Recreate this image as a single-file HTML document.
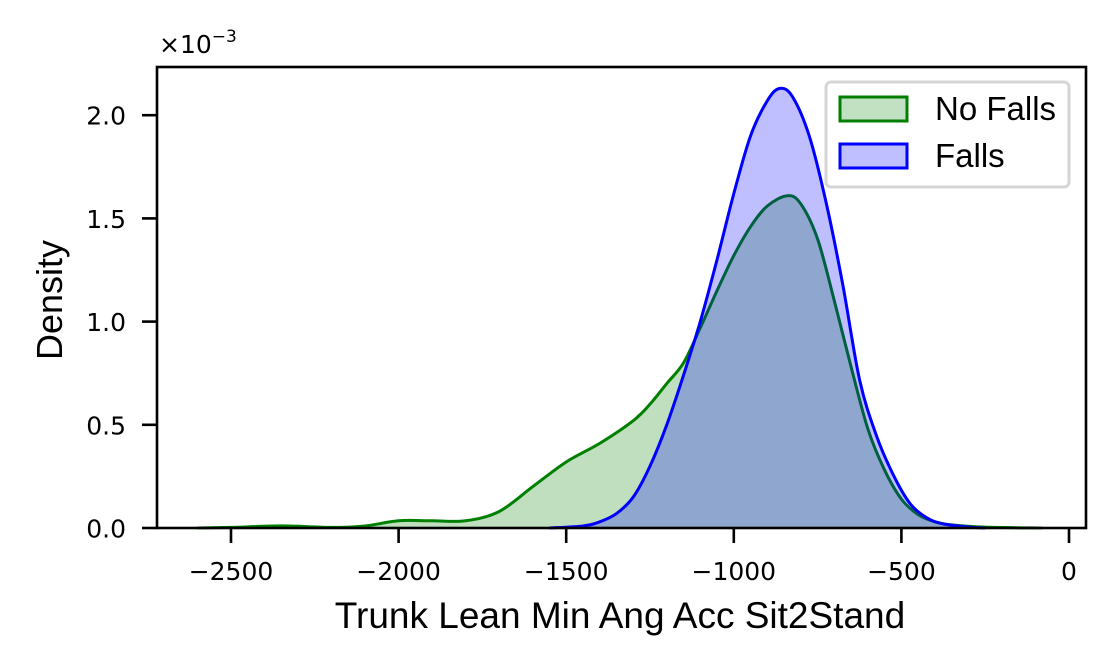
<!DOCTYPE html>
<html><head><meta charset="utf-8"><style>
body{margin:0;background:#fff}
svg text{font-family:"Liberation Sans",Arial,sans-serif}
.tk{font-family:"DejaVu Sans",sans-serif}
</style></head><body>
<svg id="chart" width="1116" height="666">
<rect width="1116" height="666" fill="#fff"/>
<g id="plot"></g>
<rect x="157" y="67" width="929" height="461" fill="none" stroke="#000" stroke-width="2.6"/>
<g id="axes"></g>
<text class="tk" x="159" y="53" font-size="25">×10<tspan dy="-11" font-size="17">−3</tspan></text>
<text transform="translate(62,300) rotate(-90)" font-size="36" text-anchor="middle">Density</text>
<text x="620" y="628" font-size="37" text-anchor="middle">Trunk Lean Min Ang Acc Sit2Stand</text>
<g>
<rect x="826" y="82" width="243" height="105" rx="5" fill="#fff" fill-opacity="0.8" stroke="#d5d5d5" stroke-width="3"/>
<g>
<rect x="840" y="97" width="67" height="24" fill="#c2e0c2" stroke="#008000" stroke-width="3"/>
<text x="935" y="120" font-size="33">No Falls</text></g>
<g>
<rect x="840" y="144" width="67" height="24" fill="#bfbfff" stroke="#0000ff" stroke-width="3"/>
<text x="935" y="167" font-size="33">Falls</text></g>
</g>
</svg>
<script>
const greenX=[-2600,-2500,-2350,-2200,-2100,-2000,-1900,-1800,-1700,-1600,-1500,-1400,-1300,-1250,-1200,-1150,-1100,-1050,-1000,-950,-900,-840,-800,-750,-700,-650,-600,-550,-500,-450,-400,-350,-250,-80];
const greenY=[0,0.003,0.01,0.003,0.01,0.035,0.035,0.035,0.08,0.2,0.32,0.41,0.52,0.6,0.7,0.8,0.97,1.15,1.32,1.46,1.56,1.61,1.57,1.4,1.1,0.78,0.48,0.28,0.14,0.065,0.03,0.015,0.004,0];
const blueX=[-1550,-1450,-1400,-1350,-1300,-1250,-1200,-1150,-1100,-1050,-1000,-950,-900,-863,-825,-775,-725,-675,-625,-575,-525,-475,-425,-375,-300,-250];
const blueY=[0,0.01,0.03,0.07,0.15,0.3,0.5,0.74,1.0,1.3,1.62,1.9,2.07,2.13,2.09,1.9,1.58,1.18,0.72,0.45,0.26,0.12,0.05,0.02,0.005,0];
const xTicks=[-2500,-2000,-1500,-1000,-500,0];
const xTickLabels=["−2500","−2000","−1500","−1000","−500","0"];
const yTicks=[0,0.5,1.0,1.5,2.0];
const yTickLabels=["0.0","0.5","1.0","1.5","2.0"];
const NS="http://www.w3.org/2000/svg";
const sx=v=>1069+(v/500)*167.6;
const sy=v=>528-v*206.4;
function mk(t,a,p){const e=document.createElementNS(NS,t);for(const k in a)e.setAttribute(k,a[k]);p.appendChild(e);return e;}
function path(xs,ys){const P=xs.map((x,i)=>[sx(x),sy(ys[i])]);let d=`M${P[0][0]},${P[0][1]}`;
for(let i=0;i<P.length-1;i++){const p0=P[Math.max(0,i-1)],p1=P[i],p2=P[i+1],p3=P[Math.min(P.length-1,i+2)];
const c1=[p1[0]+(p2[0]-p0[0])/6,p1[1]+(p2[1]-p0[1])/6],c2=[p2[0]-(p3[0]-p1[0])/6,p2[1]-(p3[1]-p1[1])/6];
d+=` C${c1[0]},${Math.min(528,c1[1])} ${c2[0]},${Math.min(528,c2[1])} ${p2[0]},${p2[1]}`;}return d;}
const plot=document.getElementById('plot');
[[greenX,greenY,'#008000','no-falls'],[blueX,blueY,'#0000ff','falls']].forEach(([xs,ys,c,n])=>{
const d=path(xs,ys);
const f=mk('path',{d:d+` L${sx(xs[xs.length-1])},528 L${sx(xs[0])},528 Z`,fill:c,'fill-opacity':0.25,stroke:'none'},plot);


const l=mk('path',{d:d,fill:'none',stroke:c,'stroke-width':3},plot);


});
const ax=document.getElementById('axes');
xTicks.forEach((v,i)=>{const x=sx(v);
mk('line',{x1:x,x2:x,y1:528,y2:543,stroke:'#000','stroke-width':2.6},ax);
const t=mk('text',{x:x,y:580,'font-size':25,'text-anchor':'middle','class':'tk'},ax);t.textContent=xTickLabels[i];

});
yTicks.forEach((v,i)=>{const y=sy(v);
mk('line',{x1:142,x2:157,y1:y,y2:y,stroke:'#000','stroke-width':2.6},ax);
const t=mk('text',{x:126,y:y+9.5,'font-size':25,'text-anchor':'end','class':'tk'},ax);t.textContent=yTickLabels[i];

});
</script>
</body></html>
